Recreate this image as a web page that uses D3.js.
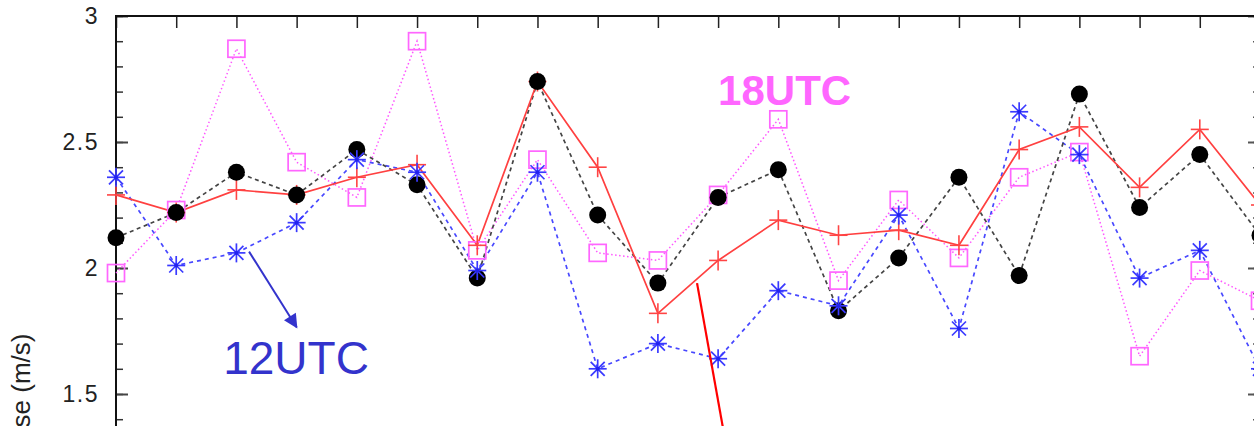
<!DOCTYPE html>
<html>
<head>
<meta charset="utf-8">
<script src="https://cdn.jsdelivr.net/npm/d3@7"></script>
<style>
  html, body { margin: 0; padding: 0; background: #fff; }
  svg { display: block; }
  text { font-family: "Liberation Sans", Arial, sans-serif; }
</style>
</head>
<body>
<div id="chart"></div>
<script>
// ---- data (x = station index, y = RMSE m/s) ----
const categories = d3.range(20);
const series00 = [2.12, 2.22, 2.38, 2.29, 2.47, 2.33, 1.96, 2.74, 2.21, 1.94, 2.28, 2.39, 1.83, 2.04, 2.36, 1.97, 2.69, 2.24, 2.45, 2.13]; // black circles
const series06 = [2.29, 2.22, 2.31, 2.29, 2.36, 2.41, 2.09, 2.74, 2.40, 1.82, 2.03, 2.19, 2.13, 2.15, 2.09, 2.47, 2.56, 2.32, 2.55, 2.25]; // red plus
const series12 = [2.36, 2.01, 2.06, 2.18, 2.43, 2.38, 1.99, 2.38, 1.60, 1.70, 1.64, 1.91, 1.85, 2.21, 1.76, 2.62, 2.45, 1.96, 2.07, 1.60]; // blue asterisk
const series18 = [1.98, 2.23, 2.87, 2.42, 2.28, 2.90, 2.07, 2.43, 2.06, 2.03, 2.29, 2.59, 1.95, 2.27, 2.04, 2.36, 2.46, 1.65, 1.99, 1.87]; // pink squares
const yMajorTicks = [1.5, 2, 2.5, 3];
const yTickLabels = ["1.5", "2", "2.5", "3"];
const yMinorTicks = d3.range(14, 31).map(d => d / 10);
const yLabel = "rmse (m/s)";
const label18 = "18UTC";
const label12 = "12UTC";

// ---- layout ----
const W = 1254, H = 426;
const svg = d3.select("#chart").append("svg").attr("width", W).attr("height", H);

const x = d3.scaleLinear().domain([0, 19]).range([116, 1260]);
const y = d3.scaleLinear().domain([3, 1.5]).range([16, 394]);

const plotBottom = y(1.3);

// minor ticks left
svg.append("g").attr("transform", `translate(${x(0)},0)`)
  .call(d3.axisLeft(y).tickValues(yMinorTicks).tickSize(-7).tickFormat(""))
  .call(g => g.select(".domain").remove())
  .call(g => g.selectAll("line").attr("stroke", "#333").attr("stroke-width", 1.5));
// major ticks left
svg.append("g").attr("transform", `translate(${x(0)},0)`)
  .call(d3.axisLeft(y).tickValues(yMajorTicks).tickSize(-12).tickPadding(17)
        .tickFormat((d, i) => yTickLabels[i]))
  .call(g => g.select(".domain").remove())
  .call(g => g.selectAll("line").attr("stroke", "#444").attr("stroke-width", 2))
  .call(g => g.selectAll("text").attr("font-size", 23).attr("fill", "#222")
        .attr("font-family", "Liberation Sans, Arial, sans-serif").attr("letter-spacing", 1.5));
// right ticks (inward)
svg.append("g").attr("transform", `translate(${x(19)},0)`)
  .call(d3.axisRight(y).tickValues(yMinorTicks).tickSize(-7).tickFormat(""))
  .call(g => g.select(".domain").remove())
  .call(g => g.selectAll("line").attr("stroke", "#555").attr("stroke-width", 1.5));
svg.append("g").attr("transform", `translate(${x(19)},0)`)
  .call(d3.axisRight(y).tickValues(yMajorTicks).tickSize(-12).tickFormat(""))
  .call(g => g.select(".domain").remove())
  .call(g => g.selectAll("line").attr("stroke", "#555").attr("stroke-width", 2));
// top ticks
svg.append("g").attr("transform", `translate(0,${y(3)})`)
  .call(d3.axisTop(x).tickValues(categories).tickSize(-12).tickFormat(""))
  .call(g => g.select(".domain").remove())
  .call(g => g.selectAll("line").attr("stroke", "#222").attr("stroke-width", 1.5));

// frame
svg.append("line").attr("x1", x(0)).attr("x2", x(0)).attr("y1", y(3) - 1).attr("y2", plotBottom)
  .attr("stroke", "#111").attr("stroke-width", 2);
svg.append("line").attr("x1", x(0) - 1).attr("x2", x(19)).attr("y1", y(3)).attr("y2", y(3))
  .attr("stroke", "#111").attr("stroke-width", 2);

// y label (cut off at the bottom edge, as in the reference)
svg.append("text")
  .attr("transform", `translate(30,${y(1.74)}) rotate(-90)`)
  .attr("text-anchor", "end")
  .attr("font-size", 26).attr("fill", "#222")
  .text(yLabel);

// ---- series ----
const line = d3.line().x((d, i) => x(i)).y(d => y(d));

svg.append("path").datum(series18).attr("d", line)
  .attr("fill", "none").attr("stroke", "#ff55ff").attr("stroke-width", 1.5)
  .attr("stroke-dasharray", "1.5,2.5");
svg.append("path").datum(series12).attr("d", line)
  .attr("fill", "none").attr("stroke", "#4848ff").attr("stroke-width", 1.7)
  .attr("stroke-dasharray", "4,4");
svg.append("path").datum(series00).attr("d", line)
  .attr("fill", "none").attr("stroke", "#444").attr("stroke-width", 1.7)
  .attr("stroke-dasharray", "4,3.5");
svg.append("path").datum(series06).attr("d", line)
  .attr("fill", "none").attr("stroke", "#ff4040").attr("stroke-width", 1.7);

// squares (18UTC)
svg.append("g").selectAll("rect").data(series18).join("rect")
  .attr("x", (d, i) => x(i) - 8.5).attr("y", d => y(d) - 8.5)
  .attr("width", 17).attr("height", 17)
  .attr("fill", "none").attr("stroke", "#ff66ff").attr("stroke-width", 1.7);

// plus (06UTC)
const plusG = svg.append("g").selectAll("g").data(series06).join("g")
  .attr("transform", (d, i) => `translate(${x(i)},${y(d)})`)
  .attr("stroke", "#ff4444").attr("stroke-width", 1.6);
plusG.append("line").attr("x1", -9).attr("x2", 9);
plusG.append("line").attr("y1", -10).attr("y2", 10);

// circles (00UTC)
svg.append("g").selectAll("circle").data(series00).join("circle")
  .attr("cx", (d, i) => x(i)).attr("cy", d => y(d)).attr("r", 8.5)
  .attr("fill", "#000");

// asterisks (12UTC)
const astG = svg.append("g").selectAll("g").data(series12).join("g")
  .attr("transform", (d, i) => `translate(${x(i)},${y(d)})`)
  .attr("stroke", "#3a3aff").attr("stroke-width", 1.7);
astG.append("line").attr("x1", -9).attr("x2", 9);
astG.append("line").attr("y1", -9.5).attr("y2", 9.5);
astG.append("line").attr("x1", -7).attr("y1", -7).attr("x2", 7).attr("y2", 7);
astG.append("line").attr("x1", -7).attr("y1", 7).attr("x2", 7).attr("y2", -7);
astG.append("circle").attr("r", 2).attr("fill", "#2222ee").attr("stroke", "none");

// ---- annotations ----
svg.append("text").attr("x", x(10)).attr("y", y(2.647))
  .attr("font-size", 42).attr("font-weight", "bold").attr("fill", "#ff66ff")
  .text(label18);
svg.append("text").attr("x", x(1.78)).attr("y", y(1.58))
  .attr("font-size", 46).attr("fill", "#3333cc")
  .text(label12);

// blue arrow
const defs = svg.append("defs");
defs.append("marker").attr("id", "arr").attr("viewBox", "0 0 10 10")
  .attr("refX", 9).attr("refY", 5).attr("markerWidth", 8).attr("markerHeight", 7)
  .attr("markerUnits", "strokeWidth").attr("orient", "auto")
  .append("path").attr("d", "M0,0 L10,5 L0,10 z").attr("fill", "#3333cc");
svg.append("line")
  .attr("x1", x(2.21)).attr("y1", y(2.065))
  .attr("x2", x(3.0)).attr("y2", y(1.765))
  .attr("stroke", "#3333cc").attr("stroke-width", 2).attr("marker-end", "url(#arr)");

// red pointer line
svg.append("line")
  .attr("x1", x(9.65)).attr("y1", y(1.94))
  .attr("x2", x(10.1)).attr("y2", y(1.34))
  .attr("stroke", "#ff0000").attr("stroke-width", 2.2);
</script>
</body>
</html>
